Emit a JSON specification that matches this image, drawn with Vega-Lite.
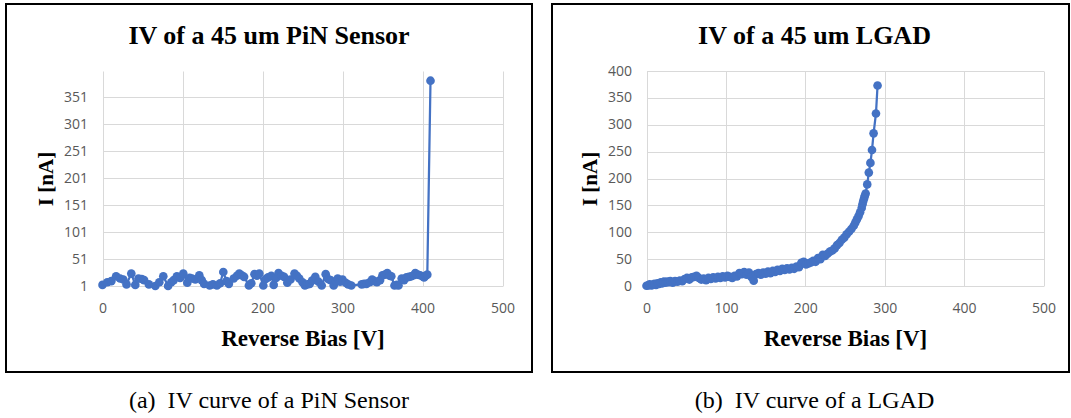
{
  "$schema": "https://vega.github.io/schema/vega-lite/v6.json",
  "background": "white",
  "padding": {"left": 5, "top": 3, "right": 0, "bottom": 0},
  "spacing": 18,
  "datasets": {
    "pin": [
      {"V": 0, "I": 3}, {"V": 6, "I": 8}, {"V": 11, "I": 10}, {"V": 17, "I": 19}, {"V": 22, "I": 15},
      {"V": 26, "I": 13}, {"V": 30, "I": 4}, {"V": 36, "I": 24}, {"V": 41, "I": 3}, {"V": 45, "I": 15},
      {"V": 49, "I": 14}, {"V": 52, "I": 12}, {"V": 58, "I": 4}, {"V": 66, "I": 1}, {"V": 71, "I": 8},
      {"V": 76, "I": 19}, {"V": 82, "I": 1}, {"V": 86, "I": 8}, {"V": 89, "I": 12}, {"V": 93, "I": 19},
      {"V": 97, "I": 16}, {"V": 101, "I": 24}, {"V": 106, "I": 7}, {"V": 109, "I": 16}, {"V": 112, "I": 15},
      {"V": 116, "I": 13}, {"V": 121, "I": 21}, {"V": 124, "I": 12}, {"V": 127, "I": 5}, {"V": 134, "I": 2},
      {"V": 138, "I": 4}, {"V": 143, "I": 2}, {"V": 147, "I": 6}, {"V": 151, "I": 27}, {"V": 155, "I": 10},
      {"V": 158, "I": 5}, {"V": 164, "I": 15}, {"V": 168, "I": 20}, {"V": 171, "I": 24}, {"V": 174, "I": 21},
      {"V": 177, "I": 18}, {"V": 183, "I": 2}, {"V": 186, "I": 6}, {"V": 190, "I": 23}, {"V": 193, "I": 20},
      {"V": 196, "I": 24}, {"V": 201, "I": 2}, {"V": 204, "I": 14}, {"V": 207, "I": 17}, {"V": 211, "I": 20},
      {"V": 214, "I": 3}, {"V": 217, "I": 16}, {"V": 220, "I": 25}, {"V": 224, "I": 20}, {"V": 227, "I": 18},
      {"V": 231, "I": 7}, {"V": 235, "I": 13}, {"V": 240, "I": 24}, {"V": 243, "I": 20}, {"V": 246, "I": 15},
      {"V": 250, "I": 8}, {"V": 253, "I": 2}, {"V": 256, "I": 4}, {"V": 259, "I": 5}, {"V": 262, "I": 11},
      {"V": 266, "I": 18}, {"V": 270, "I": 9}, {"V": 274, "I": 2}, {"V": 279, "I": 23}, {"V": 282, "I": 14},
      {"V": 285, "I": 12}, {"V": 289, "I": 2}, {"V": 292, "I": 10}, {"V": 294, "I": 15}, {"V": 297, "I": 9},
      {"V": 300, "I": 13}, {"V": 304, "I": 7}, {"V": 307, "I": 4}, {"V": 311, "I": 2}, {"V": 324, "I": 4},
      {"V": 327, "I": 5}, {"V": 330, "I": 5}, {"V": 334, "I": 8}, {"V": 337, "I": 13}, {"V": 340, "I": 10},
      {"V": 343, "I": 8}, {"V": 347, "I": 12}, {"V": 350, "I": 21}, {"V": 353, "I": 22}, {"V": 356, "I": 25},
      {"V": 359, "I": 20}, {"V": 361, "I": 19}, {"V": 365, "I": 2}, {"V": 368, "I": 3}, {"V": 370, "I": 2},
      {"V": 374, "I": 15}, {"V": 377, "I": 12}, {"V": 380, "I": 17}, {"V": 383, "I": 18}, {"V": 386, "I": 19},
      {"V": 389, "I": 21}, {"V": 391, "I": 25}, {"V": 394, "I": 22}, {"V": 397, "I": 21}, {"V": 400, "I": 19},
      {"V": 402, "I": 17}, {"V": 404, "I": 20}, {"V": 406, "I": 22}, {"V": 410, "I": 382}
    ],
    "lgad": [
      {"V": 0, "I": 0.5}, {"V": 2, "I": 1}, {"V": 4, "I": 3}, {"V": 6, "I": 1}, {"V": 8, "I": 2},
      {"V": 10, "I": 4}, {"V": 12, "I": 2}, {"V": 14, "I": 5}, {"V": 16, "I": 4}, {"V": 18, "I": 7},
      {"V": 20, "I": 5}, {"V": 22, "I": 8}, {"V": 24, "I": 6}, {"V": 26, "I": 8}, {"V": 28, "I": 7},
      {"V": 30, "I": 9}, {"V": 33, "I": 6}, {"V": 36, "I": 9}, {"V": 39, "I": 8}, {"V": 42, "I": 10},
      {"V": 45, "I": 9}, {"V": 48, "I": 13}, {"V": 51, "I": 15}, {"V": 54, "I": 12}, {"V": 57, "I": 16},
      {"V": 60, "I": 17}, {"V": 63, "I": 19}, {"V": 66, "I": 15}, {"V": 69, "I": 12}, {"V": 72, "I": 14},
      {"V": 75, "I": 11}, {"V": 78, "I": 15}, {"V": 81, "I": 13}, {"V": 84, "I": 16}, {"V": 87, "I": 14},
      {"V": 90, "I": 17}, {"V": 93, "I": 15}, {"V": 96, "I": 18}, {"V": 99, "I": 16}, {"V": 102, "I": 19},
      {"V": 105, "I": 17}, {"V": 108, "I": 15}, {"V": 111, "I": 19}, {"V": 114, "I": 18}, {"V": 117, "I": 24},
      {"V": 120, "I": 22}, {"V": 123, "I": 26}, {"V": 126, "I": 21}, {"V": 129, "I": 25}, {"V": 132, "I": 17},
      {"V": 135, "I": 10}, {"V": 138, "I": 22}, {"V": 141, "I": 24}, {"V": 144, "I": 21}, {"V": 147, "I": 25},
      {"V": 150, "I": 23}, {"V": 153, "I": 27}, {"V": 156, "I": 24}, {"V": 159, "I": 28}, {"V": 162, "I": 26},
      {"V": 165, "I": 30}, {"V": 168, "I": 28}, {"V": 171, "I": 32}, {"V": 174, "I": 30}, {"V": 177, "I": 33},
      {"V": 180, "I": 31}, {"V": 183, "I": 34}, {"V": 186, "I": 32}, {"V": 189, "I": 36}, {"V": 192, "I": 35},
      {"V": 195, "I": 43}, {"V": 198, "I": 45}, {"V": 201, "I": 40}, {"V": 204, "I": 42}, {"V": 207, "I": 44},
      {"V": 210, "I": 47}, {"V": 213, "I": 45}, {"V": 216, "I": 52}, {"V": 219, "I": 50}, {"V": 222, "I": 58},
      {"V": 225, "I": 56}, {"V": 228, "I": 60}, {"V": 231, "I": 64}, {"V": 234, "I": 66}, {"V": 237, "I": 70},
      {"V": 240, "I": 76}, {"V": 243, "I": 80}, {"V": 246, "I": 86}, {"V": 249, "I": 90}, {"V": 252, "I": 96},
      {"V": 255, "I": 101}, {"V": 258, "I": 106}, {"V": 261, "I": 112}, {"V": 263, "I": 118}, {"V": 265, "I": 124},
      {"V": 267, "I": 130}, {"V": 269, "I": 137}, {"V": 271, "I": 145}, {"V": 272, "I": 152}, {"V": 273, "I": 158},
      {"V": 274, "I": 163}, {"V": 275, "I": 168}, {"V": 276, "I": 172}, {"V": 278, "I": 189}, {"V": 280, "I": 211},
      {"V": 282, "I": 229}, {"V": 284, "I": 253}, {"V": 286, "I": 284}, {"V": 289, "I": 321}, {"V": 291, "I": 373}
    ]
  },
  "config": {
    "view": {"stroke": "black", "strokeWidth": 2},
    "axis": {
      "grid": false, "domain": false, "ticks": false, "tickSize": 0, "labelFlush": false,
      "labelFont": "Open Sans", "labelFontSize": 14, "labelColor": "#595959",
      "gridColor": "#D9D9D9", "gridWidth": 1,
      "titleFont": "Liberation Serif", "titleFontWeight": "bold", "titleColor": "black"
    }
  },
  "hconcat": [
    {
      "title": {"text": "(a)\u00a0 IV curve of a PiN Sensor", "orient": "bottom", "anchor": "middle", "font": "Liberation Serif", "fontSize": 24, "fontWeight": "normal", "color": "black", "baseline": "alphabetic", "offset": 35},
      "vconcat": [
        {
          "width": 526, "height": 368,
          "title": {"text": "IV of a 45 um PiN Sensor", "orient": "top", "anchor": "middle", "font": "Liberation Serif", "fontSize": 26, "fontWeight": "bold", "color": "black", "baseline": "alphabetic", "offset": -66},
          "data": {"name": "pin"},
          "layer": [
            {
              "mark": {"type": "line", "color": "#4472C4", "strokeWidth": 2.25},
              "encoding": {
                "x": {"field": "V", "type": "quantitative",
                  "scale": {"domain": [0, 500], "range": [96.5, 496.5], "nice": false},
                  "axis": {"orient": "bottom", "offset": -86, "values": [0, 100, 200, 300, 400, 500], "labelPadding": 15, "title": "Reverse Bias [V]", "titleFontSize": 23, "titlePadding": 12}},
                "y": {"field": "I", "type": "quantitative",
                  "scale": {"domain": [1, 400], "range": [282, 67], "nice": false, "zero": false},
                  "axis": {"orient": "left", "offset": -96.5, "values": [1, 51, 101, 151, 201, 251, 301, 351], "grid": true, "labelPadding": 15, "title": "I [nA]", "titleFontSize": 21, "titlePadding": 7}}
              }
            },
            {
              "mark": {"type": "point", "filled": true, "size": 75, "opacity": 1, "color": "#4472C4"},
              "encoding": {
                "x": {"field": "V", "type": "quantitative",
                  "axis": {"orient": "top", "grid": true, "labels": false, "title": null, "values": [0, 100, 200, 300, 400, 500]}},
                "y": {"field": "I", "type": "quantitative"}
              }
            }
          ],
          "resolve": {"axis": {"x": "independent"}}
        }
      ]
    },
    {
      "title": {"text": "(b)\u00a0 IV curve of a LGAD", "orient": "bottom", "anchor": "middle", "font": "Liberation Serif", "fontSize": 24, "fontWeight": "normal", "color": "black", "baseline": "alphabetic", "offset": 35, "dx": 4},
      "vconcat": [
        {
          "width": 517, "height": 368,
          "title": {"text": "IV of a 45 um LGAD", "orient": "top", "anchor": "middle", "font": "Liberation Serif", "fontSize": 26, "fontWeight": "bold", "color": "black", "baseline": "alphabetic", "offset": -66, "dx": 4},
          "data": {"name": "lgad"},
          "layer": [
            {
              "mark": {"type": "line", "color": "#4472C4", "strokeWidth": 2.25},
              "encoding": {
                "x": {"field": "V", "type": "quantitative",
                  "scale": {"domain": [0, 500], "range": [94.5, 491.5], "nice": false},
                  "axis": {"orient": "bottom", "offset": -86, "values": [0, 100, 200, 300, 400, 500], "labelPadding": 15, "title": "Reverse Bias [V]", "titleFontSize": 23, "titlePadding": 12}},
                "y": {"field": "I", "type": "quantitative",
                  "scale": {"domain": [0, 400], "range": [282, 67], "nice": false},
                  "axis": {"orient": "left", "offset": -94.5, "values": [0, 50, 100, 150, 200, 250, 300, 350, 400], "grid": true, "labelPadding": 15, "title": "I [nA]", "titleFontSize": 21, "titlePadding": 7}}
              }
            },
            {
              "mark": {"type": "point", "filled": true, "size": 75, "opacity": 1, "color": "#4472C4"},
              "encoding": {
                "x": {"field": "V", "type": "quantitative",
                  "axis": {"orient": "top", "grid": true, "labels": false, "title": null, "values": [0, 100, 200, 300, 400, 500]}},
                "y": {"field": "I", "type": "quantitative"}
              }
            }
          ],
          "resolve": {"axis": {"x": "independent"}}
        }
      ]
    }
  ]
}
